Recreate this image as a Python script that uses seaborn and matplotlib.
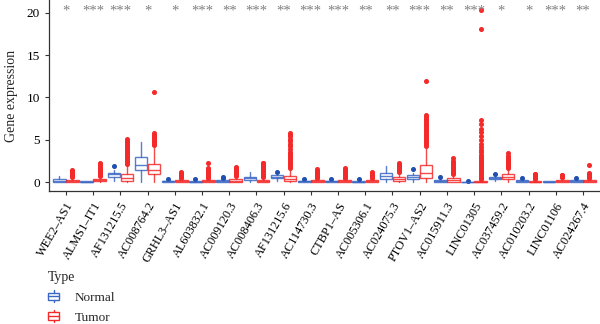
import matplotlib
matplotlib.use("Agg")
import matplotlib.pyplot as plt
import seaborn as sns
import numpy as np
from matplotlib.legend_handler import HandlerBase
from matplotlib.patches import Rectangle
from matplotlib.lines import Line2D

genes = ["WEE2–AS1", "ALMS1–IT1", "AF131215.5", "AC008764.2", "GRHL3–AS1",
         "AL603832.1", "AC009120.3", "AC008406.3", "AF131215.6", "AC114730.3",
         "CTBP1–AS", "AC005306.1", "AC024075.3", "PTOV1–AS2", "AC015911.3",
         "LINC01305", "AC037459.2", "AC010203.2", "LINC01106", "AC024267.4"]
stars = ["*", "***", "***", "*", "*", "***", "**", "***", "**", "***",
         "***", "**", "**", "***", "**", "***", "*", "*", "***", "**"]

# Normal summary statistics
normal_q1 = [0.05, 0.02, 0.55, 1.40, 0.03, 0.01, 0.05, 0.25, 0.45, 0.03,
             0.03, 0.02, 0.30, 0.30, 0.05, 0.00, 0.35, 0.05, 0.02, 0.04]
normal_med = [0.15, 0.05, 0.90, 2.05, 0.08, 0.04, 0.10, 0.45, 0.60, 0.08,
              0.07, 0.06, 0.70, 0.55, 0.10, 0.01, 0.50, 0.10, 0.04, 0.10]
normal_q3 = [0.35, 0.08, 1.10, 3.00, 0.12, 0.08, 0.20, 0.65, 0.80, 0.12,
             0.12, 0.10, 1.10, 0.85, 0.20, 0.03, 0.65, 0.20, 0.07, 0.20]
normal_lo = [0.00, 0.00, 0.10, 0.00, 0.00, 0.00, 0.00, 0.00, 0.10, 0.00,
             0.00, 0.00, 0.00, 0.00, 0.00, 0.00, 0.15, 0.00, 0.00, 0.00]
normal_hi = [0.70, 0.12, 1.40, 4.75, 0.20, 0.15, 0.35, 1.15, 1.00, 0.20,
             0.20, 0.18, 1.90, 1.10, 0.30, 0.05, 0.80, 0.30, 0.10, 0.30]
normal_fliers = [[], [], [1.85], [], [0.35], [0.30], [0.50, 0.65], [], [1.20], [0.40],
                 [0.40], [0.30], [], [1.50], [0.55], [0.12], [0.95], [0.45], [], [0.50]]

# Tumor summary statistics
tumor_q1 = [0.05, 0.10, 0.15, 0.95, 0.05, 0.05, 0.05, 0.00, 0.10, 0.05,
            0.05, 0.05, 0.10, 0.45, 0.05, 0.00, 0.40, 0.00, 0.05, 0.05]
tumor_med = [0.12, 0.20, 0.45, 1.40, 0.10, 0.10, 0.15, 0.10, 0.35, 0.10,
             0.10, 0.10, 0.30, 1.05, 0.20, 0.02, 0.60, 0.05, 0.12, 0.10]
tumor_q3 = [0.25, 0.35, 0.95, 2.15, 0.20, 0.20, 0.35, 0.25, 0.75, 0.20,
            0.20, 0.20, 0.60, 2.05, 0.45, 0.08, 0.90, 0.15, 0.25, 0.20]
tumor_lo = [0.00, 0.00, 0.00, 0.00, 0.00, 0.00, 0.00, 0.00, 0.00, 0.00,
            0.00, 0.00, 0.00, 0.00, 0.00, 0.00, 0.05, 0.00, 0.00, 0.00]
tumor_hi = [0.55, 0.70, 2.00, 4.30, 0.40, 0.40, 0.65, 0.50, 1.60, 0.40,
            0.40, 0.40, 1.10, 4.20, 0.90, 0.20, 1.60, 0.30, 0.50, 0.40]
tumor_fliers = [
    [0.6, 0.7, 0.8, 0.9, 1.0, 1.1, 1.2, 1.3, 1.4],
    [0.75, 0.85, 0.95, 1.05, 1.15, 1.3, 1.45, 1.6, 1.8, 2.0, 2.2],
    [2.1, 2.3, 2.5, 2.7, 2.9, 3.1, 3.3, 3.5, 3.7, 3.9, 4.1, 4.3, 4.5, 4.7, 4.9, 5.1],
    [4.4, 4.55, 4.7, 4.85, 5.0, 5.15, 5.3, 5.45, 5.6, 5.75, 10.6],
    [0.45, 0.55, 0.65, 0.75, 0.85, 0.95, 1.05, 1.2],
    [0.45, 0.55, 0.7, 0.85, 1.0, 1.15, 1.3, 1.5, 1.7, 2.2],
    [0.7, 0.8, 0.9, 1.0, 1.1, 1.2, 1.35, 1.5, 1.65, 1.8],
    [0.55, 0.7, 0.85, 1.0, 1.15, 1.3, 1.45, 1.6, 1.75, 1.9, 2.05, 2.2, 2.3],
    [1.7, 1.85, 2.0, 2.15, 2.3, 2.5, 2.7, 2.9, 3.1, 3.3, 3.6, 3.9, 4.2, 4.5, 4.8, 5.1, 5.4, 5.6, 5.8],
    [0.45, 0.55, 0.65, 0.75, 0.85, 0.95, 1.05, 1.2, 1.35, 1.5],
    [0.45, 0.55, 0.65, 0.75, 0.85, 1.0, 1.15, 1.3, 1.45, 1.6],
    [0.45, 0.55, 0.65, 0.75, 0.85, 0.95, 1.05, 1.2],
    [1.2, 1.3, 1.4, 1.5, 1.6, 1.7, 1.8, 1.9, 2.0, 2.15, 2.3],
    [4.3, 4.5, 4.7, 4.9, 5.1, 5.3, 5.5, 5.7, 5.9, 6.1, 6.3, 6.5, 6.7, 6.9, 7.1, 7.3, 7.5, 7.7, 7.9, 11.9],
    [1.0, 1.1, 1.2, 1.3, 1.4, 1.5, 1.65, 1.8, 1.95, 2.1, 2.3, 2.5, 2.8],
    [0.3, 0.45, 0.6, 0.75, 0.9, 1.05, 1.2, 1.35, 1.5, 1.65, 1.8, 1.95, 2.1, 2.25, 2.4,
     2.6, 2.8, 3.0, 3.2, 3.5, 3.8, 4.1, 4.5, 5.0, 5.4, 5.9, 6.3, 6.8, 7.3, 18.1, 20.3],
    [1.7, 1.8, 1.9, 2.0, 2.1, 2.2, 2.35, 2.5, 2.7, 2.9, 3.1, 3.4],
    [0.4, 0.5, 0.6, 0.7, 0.8, 0.9, 1.0],
    [0.55, 0.6, 0.65, 0.7, 0.75, 0.8, 0.85],
    [0.5, 0.6, 0.7, 0.8, 0.9, 1.0, 1.1, 2.0],
]

groups = ["Normal", "Tumor"]
blue = "#3a66c4"
red = "#f42a2a"
blue_dot = "#1f4fb0"

sns.set_theme(style="ticks")
plt.rcParams["font.family"] = ["Liberation Serif", "DejaVu Serif"]

fig = plt.figure(figsize=(6.0, 3.24), dpi=100)
ax = fig.add_axes([0.0817, 0.4105, 0.918, 0.5895])


def stats_for(q1, med, q3, lo, hi, fl):
    out = []
    for i in range(len(q1)):
        out.append(dict(med=med[i], q1=q1[i], q3=q3[i], whislo=lo[i], whishi=hi[i],
                        fliers=np.array(fl[i], dtype=float)))
    return out


xs = np.arange(len(genes))
off = 0.24
w = 0.46
for stats, shift, col, dcol in [
    (stats_for(normal_q1, normal_med, normal_q3, normal_lo, normal_hi, normal_fliers), -off, blue, blue_dot),
    (stats_for(tumor_q1, tumor_med, tumor_q3, tumor_lo, tumor_hi, tumor_fliers), off, red, red),
]:
    ax.bxp(stats, positions=xs + shift, widths=w, patch_artist=True, showcaps=False,
           manage_ticks=False,
           boxprops=dict(facecolor="none", edgecolor=col, linewidth=1.0, alpha=0.85),
           medianprops=dict(color=col, linewidth=1.0, alpha=0.85),
           whiskerprops=dict(color=col, linewidth=1.0, alpha=0.85),
           flierprops=dict(marker="o", markerfacecolor=dcol, markeredgecolor=dcol,
                           markersize=2.6, linestyle="none"))

for i, s in enumerate(stars):
    ax.text(xs[i], 20.25, s, ha="center", va="center", fontsize=10.5, color="#808080")

ax.set_xlim(-0.62, len(genes) - 0.38)
ax.set_ylim(-1.06, 21.5)
ax.set_yticks([0, 5, 10, 15, 20])
ax.set_xticks(xs)
ax.set_xticklabels(genes, rotation=60, ha="right", rotation_mode="anchor", fontsize=8.8)
ax.tick_params(axis="y", labelsize=9.5, length=3, width=0.8, colors="#333333")
ax.tick_params(axis="x", length=3, width=0.8, colors="#333333")
for lab in ax.get_xticklabels() + ax.get_yticklabels():
    lab.set_color("black")
ax.set_ylabel("Gene expression", fontsize=10, labelpad=6)
sns.despine(ax=ax)
for sp in ["left", "bottom"]:
    ax.spines[sp].set_linewidth(0.9)
    ax.spines[sp].set_color("#333333")


class BoxHandler(HandlerBase):
    def __init__(self, color):
        super().__init__()
        self.color = color

    def create_artists(self, legend, orig_handle, xdescent, ydescent, width, height, fontsize, trans):
        c = self.color
        bw = height * 1.2
        x0 = -xdescent
        cx = x0 + bw / 2
        rect = Rectangle((x0, -ydescent + height * 0.1), bw, height * 0.8, facecolor="none",
                         edgecolor=c, lw=1.0, transform=trans)
        med = Line2D([x0, x0 + bw], [-ydescent + height * 0.5] * 2, color=c, lw=1.0, transform=trans)
        wt = Line2D([cx, cx], [-ydescent + height * 0.9, -ydescent + height * 1.15], color=c, lw=1.0, transform=trans)
        wb = Line2D([cx, cx], [-ydescent - height * 0.15, -ydescent + height * 0.1], color=c, lw=1.0, transform=trans)
        return [rect, med, wt, wb]


h_n = Rectangle((0, 0), 1, 1)
h_t = Rectangle((0, 0), 1.0, 1.0)
leg = fig.legend([h_n, h_t], groups, title="Type", loc="upper left",
                 bbox_to_anchor=(0.08, 0.165), frameon=False, fontsize=9.5, title_fontsize=10,
                 handler_map={h_n: BoxHandler(blue), h_t: BoxHandler(red)},
                 handlelength=1.1, handletextpad=0.9, labelspacing=0.55, borderpad=0,
                 borderaxespad=0)
leg._legend_box.align = "left"
leg._legend_box.sep = 6

fig.savefig("out.png", dpi=100)
